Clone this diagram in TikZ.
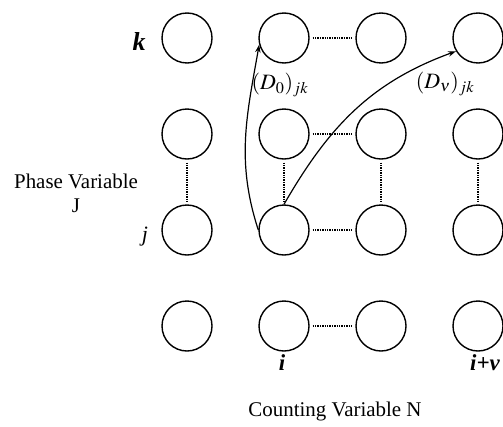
\documentclass[tikz,border=0pt]{standalone}
\usepackage{mathptmx}
\usepackage{fontspec}
\setmainfont{Liberation Serif}
\usetikzlibrary{arrows.meta}

\begin{document}
\begin{tikzpicture}[x=1bp,y=1bp,>={Stealth[length=8pt,width=5.5pt]},
  phase/.style={circle,draw,line width=1.4pt,minimum size=50bp,inner sep=0pt},
  link/.style={densely dotted,line width=1.4pt,shorten <=3pt,shorten >=3pt},
  idx/.style={font=\fontsize{23}{26}\selectfont\bfseries\itshape},
  every node/.append style={font=\fontsize{21}{24}\selectfont}]
  \useasboundingbox (0,0) rectangle (503,426);
  % states: column = counting variable, row = phase
  \foreach \c/\x in {0/187,1/284,2/381,3/478}
    \foreach \r/\y in {0/100,1/196,2/292,3/388}
      \node[phase] (s\c\r) at (\x,\y) {};
  \foreach \r in {0,...,3}
    \draw[link] (s1\r) -- (s2\r);
  \foreach \c in {0,...,3}
    \draw[link] (s\c2) -- (s\c1);

  % transitions
  \draw[->,line width=1.2pt] (s11.180) to[out=108,in=-100] (s13.195);
  \draw[->,line width=1.2pt] (s11.north) to[out=60,in=200] (s33.211);

  \node[idx,font=\fontsize{26}{28}\selectfont\bfseries\itshape] (lk) at (139,384) {k};
  \node[idx,font=\fontsize{22}{26}\selectfont\itshape] (lj) at (145,189) {j};
  \node[align=center] (lphase) at (76,233) {Phase Variable\\J};
  \node[idx] (li) at (282,63) {i};
  \node[idx] (liv) at (485,63) {i+ν};
  \node (lcount) at (335,15) {Counting Variable N};
  \node[font=\fontsize{22}{26}\selectfont] (ld0) at (280,341) {$(D_0)_{jk}$};
  \node[font=\fontsize{22}{26}\selectfont] (ldv) at (445,342) {$(D_\nu)_{jk}$};
\end{tikzpicture}
\end{document}
